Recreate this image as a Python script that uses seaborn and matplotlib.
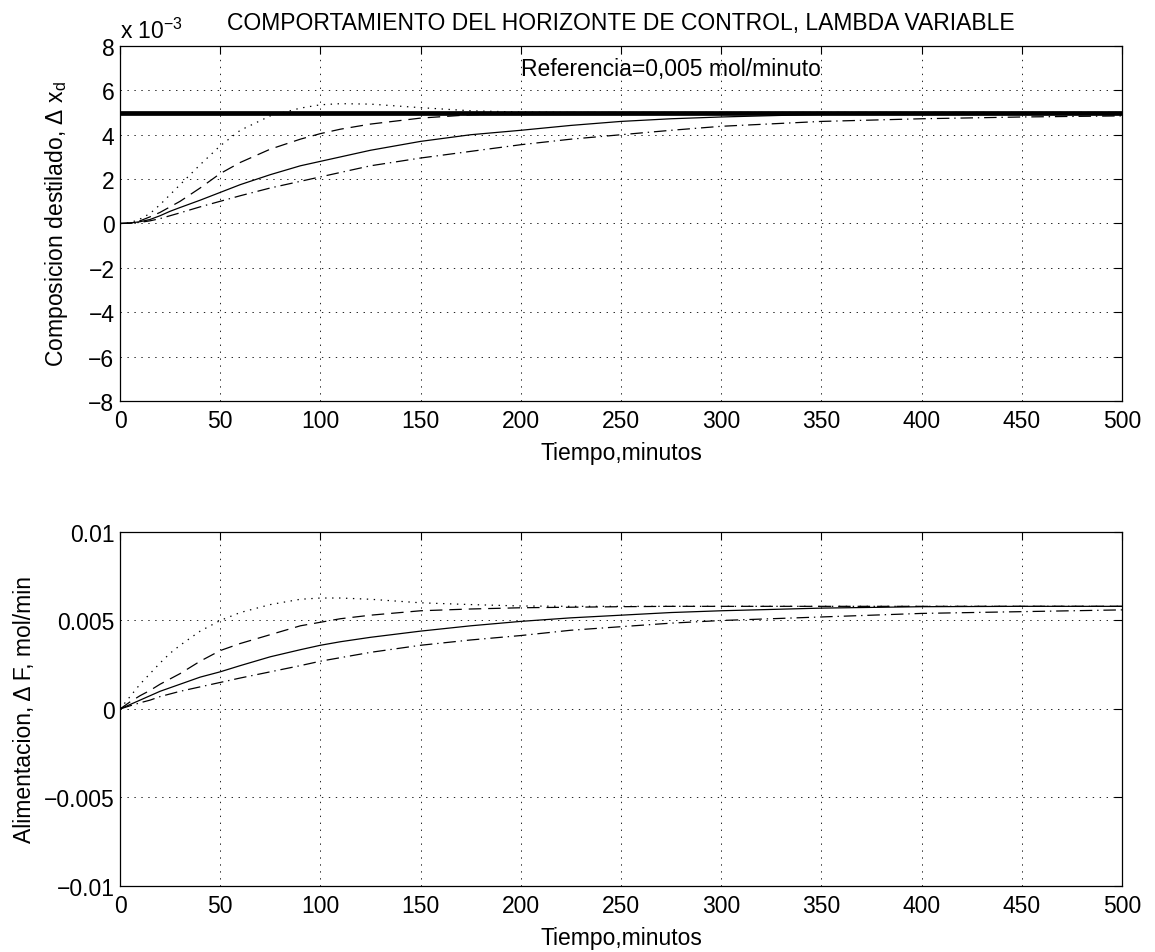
import numpy as np
import pandas as pd
import matplotlib
matplotlib.use("Agg")
import matplotlib.pyplot as plt
import seaborn as sns
from matplotlib.ticker import FixedLocator, FuncFormatter

# ---------------- data ----------------
time_min = [0, 5, 10, 15, 20, 25, 30, 40, 50, 60, 75, 90, 100, 110, 125,
            150, 175, 200, 225, 250, 275, 300, 350, 400, 450, 500]

SCALE = 1e-3  # values below are in units of 1e-3

# top: distillate composition, delta x_d (x 1e-3)
xd_dotted = [0, 0.03, 0.2, 0.45, 0.85, 1.3, 1.75, 2.65, 3.5, 4.2, 4.85, 5.2, 5.35,
             5.4, 5.38, 5.22, 5.08, 5.02, 5.0, 5.0, 5.0, 5.0, 5.0, 5.0, 5.0, 5.0]
xd_dashed = [0, 0.02, 0.12, 0.3, 0.5, 0.75, 1.0, 1.6, 2.25, 2.75, 3.35, 3.8, 4.05,
             4.25, 4.48, 4.75, 4.9, 4.97, 5.0, 5.0, 5.0, 5.0, 5.0, 5.0, 5.0, 5.0]
xd_solid = [0, 0.02, 0.08, 0.18, 0.35, 0.55, 0.72, 1.05, 1.4, 1.75, 2.2, 2.6, 2.8,
            3.0, 3.3, 3.7, 4.0, 4.2, 4.42, 4.6, 4.72, 4.8, 4.92, 4.97, 5.0, 5.0]
xd_dashdot = [0, 0.01, 0.05, 0.12, 0.22, 0.35, 0.48, 0.75, 1.0, 1.25, 1.6, 1.9, 2.1,
              2.3, 2.6, 2.95, 3.25, 3.55, 3.8, 4.0, 4.2, 4.38, 4.6, 4.72, 4.8, 4.85]
reference_time = [0, 500]
reference_value = [5.0, 5.0]

# bottom: feed, delta F (x 1e-3 mol/min)
f_dotted = [0, 0.7, 1.4, 2.0, 2.6, 3.15, 3.6, 4.4, 5.0, 5.45, 5.9, 6.2, 6.27,
            6.27, 6.2, 6.0, 5.9, 5.82, 5.8, 5.8, 5.8, 5.8, 5.8, 5.8, 5.8, 5.8]
f_dashed = [0, 0.4, 0.75, 1.05, 1.4, 1.7, 2.0, 2.7, 3.3, 3.7, 4.2, 4.7, 4.9,
            5.1, 5.3, 5.55, 5.65, 5.72, 5.75, 5.78, 5.8, 5.8, 5.8, 5.8, 5.8, 5.8]
f_solid = [0, 0.25, 0.5, 0.75, 1.0, 1.2, 1.4, 1.8, 2.1, 2.45, 2.95, 3.35, 3.6,
           3.8, 4.05, 4.4, 4.7, 4.95, 5.15, 5.3, 5.45, 5.55, 5.7, 5.78, 5.8, 5.8]
f_dashdot = [0, 0.18, 0.35, 0.5, 0.7, 0.85, 1.0, 1.25, 1.5, 1.75, 2.1, 2.45, 2.7,
             2.9, 3.2, 3.6, 3.9, 4.15, 4.45, 4.65, 4.85, 5.0, 5.2, 5.4, 5.5, 5.6]

x_ticks = [0, 50, 100, 150, 200, 250, 300, 350, 400, 450, 500]
top_y_ticks = [-8, -6, -4, -2, 0, 2, 4, 6, 8]
bottom_y_ticks = [-0.01, -0.005, 0, 0.005, 0.01]
bottom_y_labels = ["\u22120.01", "\u22120.005", "0", "0.005", "0.01"]

title_text = "COMPORTAMIENTO DEL HORIZONTE DE CONTROL, LAMBDA VARIABLE"
ref_text = "Referencia=0,005 mol/minuto"

# ---------------- style ----------------
sns.set_theme(style="white")
plt.rcParams.update({
    "font.family": ["Liberation Sans", "DejaVu Sans"],
    "mathtext.default": "regular",
    "lines.scale_dashes": False,
    "axes.edgecolor": "black",
    "axes.linewidth": 0.9,
    "xtick.direction": "in",
    "ytick.direction": "in",
    "xtick.color": "black",
    "ytick.color": "black",
    "text.color": "black",
    "axes.labelcolor": "black",
})
FS = 16.5

fig = plt.figure(figsize=(11.55, 9.53), dpi=100)
ax1 = fig.add_axes([0.1039, 0.5782, 0.8675, 0.3725])
ax2 = fig.add_axes([0.1039, 0.0693, 0.8675, 0.3714])

styles = {
    "dotted": (0, (1, 4)),
    "dashed": (0, (9, 5)),
    "solid": "-",
    "dashdot": (0, (9, 3.5, 1, 3.5)),
}

def series_frame(values, name, scale=SCALE):
    return pd.DataFrame({"t": time_min, "v": np.asarray(values) * scale, "s": name})

top_series = {"dotted": xd_dotted, "dashed": xd_dashed,
              "solid": xd_solid, "dashdot": xd_dashdot}
bot_series = {"dotted": f_dotted, "dashed": f_dashed,
              "solid": f_solid, "dashdot": f_dashdot}

ref_df = pd.DataFrame({"t": reference_time, "v": np.asarray(reference_value) * SCALE})
sns.lineplot(data=ref_df, x="t", y="v", ax=ax1, color="black", lw=3.4,
             estimator=None, legend=False)
for name, vals in top_series.items():
    sns.lineplot(data=series_frame(vals, name), x="t", y="v", ax=ax1,
                 color="black", lw=0.9, linestyle=styles[name],
                 estimator=None, legend=False)
for name, vals in bot_series.items():
    sns.lineplot(data=series_frame(vals, name), x="t", y="v", ax=ax2,
                 color="black", lw=0.9, linestyle=styles[name],
                 estimator=None, legend=False)

grid_kw = dict(color="black", linestyle=(0, (1, 4)), linewidth=0.6)

for ax in (ax1, ax2):
    ax.set_xlim(0, 500)
    ax.xaxis.set_major_locator(FixedLocator(x_ticks))
    ax.tick_params(axis="both", which="major", labelsize=FS, length=6, width=0.8,
                   top=True, right=True, pad=4)
    ax.tick_params(axis="x", pad=6)
    ax.grid(True, **grid_kw)
    ax.set_xlabel("Tiempo,minutos", fontsize=FS, labelpad=6)
    for sp in ax.spines.values():
        sp.set_visible(True)
        sp.set_color("black")

ax1.set_ylim(-8 * SCALE, 8 * SCALE)
ax1.yaxis.set_major_locator(FixedLocator([v * SCALE for v in top_y_ticks]))
ax1.yaxis.set_major_formatter(FuncFormatter(
    lambda v, p: f"{round(v / SCALE):d}".replace("-", "\u2212")))
ax1.set_ylabel("Composicion destilado, \u0394 x$_d$", fontsize=FS)
ax1.yaxis.set_label_coords(-0.0499, 0.5)
ax1.set_title(title_text, fontsize=FS, pad=12)
ax1.text(0.0, 1.008, "x 10$^{-3}$", transform=ax1.transAxes, fontsize=FS,
         ha="left", va="bottom")
ax1.text(200, 7 * SCALE, ref_text, fontsize=FS, ha="left", va="center")

ax2.set_ylim(-0.01, 0.01)
ax2.yaxis.set_major_locator(FixedLocator(bottom_y_ticks))
ax2.set_yticklabels(bottom_y_labels)
ax2.set_ylabel("Alimentacion, \u0394 F, mol/min", fontsize=FS)
ax2.yaxis.set_label_coords(-0.0838, 0.5)

fig.savefig("out.png", dpi=100, facecolor="white")
